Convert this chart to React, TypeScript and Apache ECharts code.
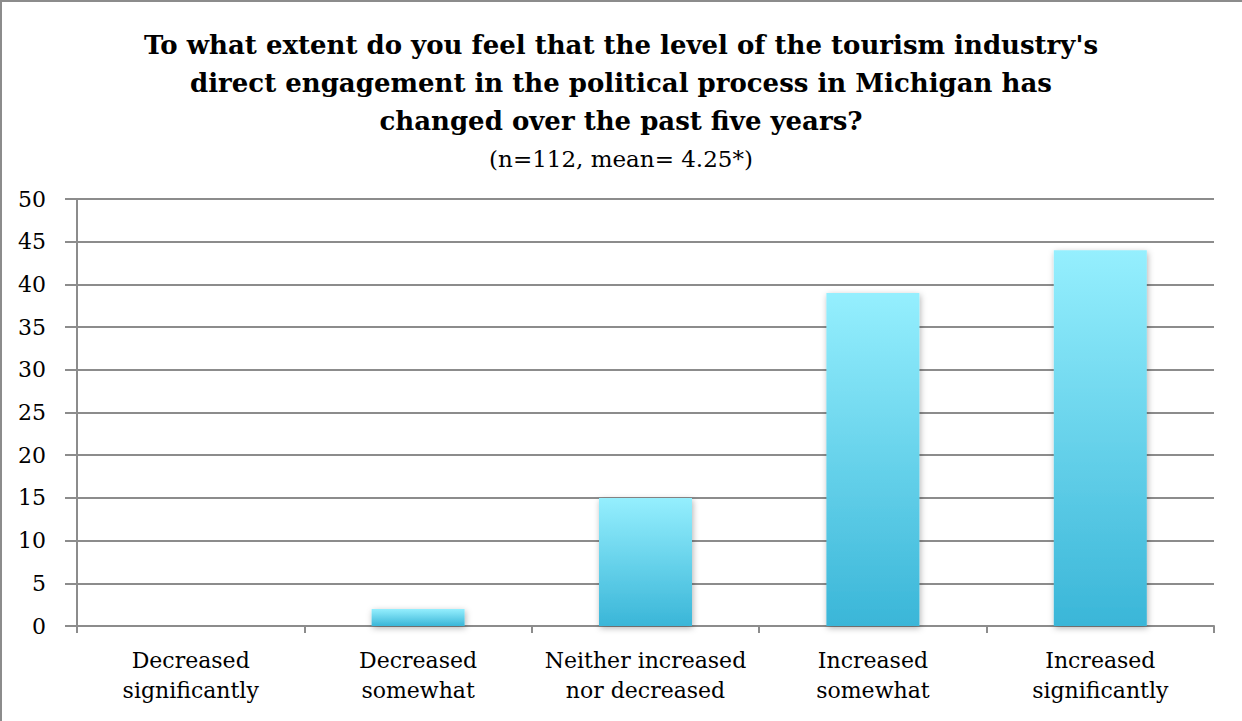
import React, { useEffect, useRef } from "react";
import * as echarts from "echarts";

const categories = [
  "Decreased\nsignificantly",
  "Decreased\nsomewhat",
  "Neither increased\nnor decreased",
  "Increased\nsomewhat",
  "Increased\nsignificantly",
];
const values = [0, 2, 15, 39, 44];
const titleText =
  "To what extent do you feel that the level of the tourism industry's\ndirect engagement in the political process in Michigan has\nchanged over the past five years?";
const subtitleText = "(n=112, mean= 4.25*)";

const FONT = "'DejaVu Serif', 'Liberation Serif', serif";

export default function App() {
  const ref = useRef<HTMLDivElement>(null);
  useEffect(() => {
    document.body.style.margin = "0";
    const chart = echarts.init(ref.current!, null, { renderer: "svg" });
    chart.setOption({
      animation: false,
      backgroundColor: "#ffffff",
      title: {
        text: titleText,
        subtext: subtitleText,
        left: "center",
        top: 21,
        itemGap: 4,
        textStyle: {
          fontFamily: FONT,
          fontWeight: "bold",
          fontSize: 26,
          lineHeight: 38,
          color: "#000",
        },
        subtextStyle: {
          fontFamily: FONT,
          fontSize: 23,
          lineHeight: 30,
          color: "#000",
        },
      },
      graphic: [
        { type: "line", shape: { x1: 1, y1: 0, x2: 1, y2: 721 }, style: { stroke: "#8c8c8c", lineWidth: 2 } },
        { type: "line", shape: { x1: 0, y1: 1, x2: 1242, y2: 1 }, style: { stroke: "#8c8c8c", lineWidth: 2 } },
      ],
      grid: { left: 77, right: 28, top: 199, bottom: 95, containLabel: false },
      xAxis: {
        type: "category",
        data: categories,
        axisLine: { lineStyle: { color: "#8c8c8c", width: 2 } },
        axisTick: { show: true, length: 7, lineStyle: { color: "#8c8c8c", width: 2 } },
        axisLabel: {
          fontFamily: FONT,
          fontSize: 22,
          color: "#000",
          lineHeight: 30,
          margin: 19,
          interval: 0,
        },
      },
      yAxis: {
        type: "value",
        min: 0,
        max: 50,
        interval: 5,
        axisLine: { show: true, lineStyle: { color: "#8c8c8c", width: 2 } },
        axisTick: { show: true, length: 12, lineStyle: { color: "#8c8c8c", width: 2 } },
        splitLine: { lineStyle: { color: "#8c8c8c", width: 2 } },
        axisLabel: {
          fontFamily: FONT,
          fontSize: 22,
          color: "#000",
          margin: 31,
        },
      },
      series: [
        {
          type: "bar",
          data: values,
          barWidth: 93,
          itemStyle: {
            color: new echarts.graphic.LinearGradient(0, 0, 0, 1, [
              { offset: 0, color: "#95EFFE" },
              { offset: 1, color: "#3AB6D8" },
            ]),
            shadowColor: "rgba(0,0,0,0.3)",
            shadowBlur: 6,
            shadowOffsetX: 1,
            shadowOffsetY: 2,
          },
        },
      ],
    });
    return () => chart.dispose();
  }, []);
  return <div ref={ref} style={{ width: 1242, height: 721 }} />;
}
